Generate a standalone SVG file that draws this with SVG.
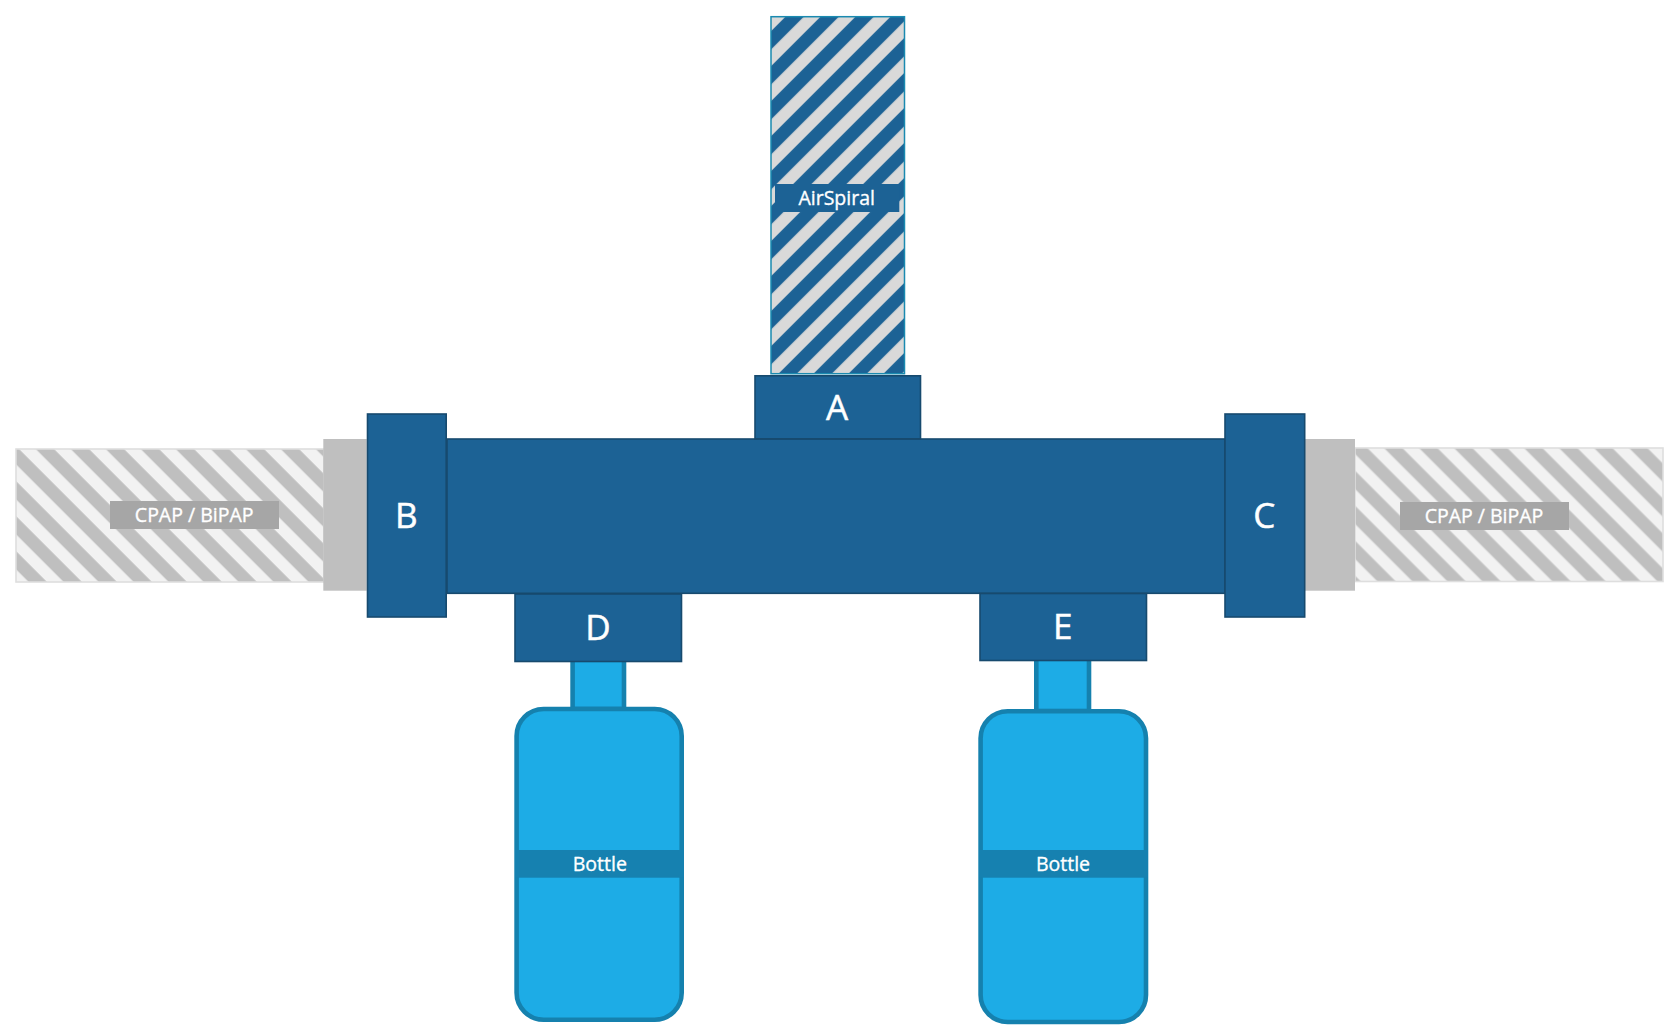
<svg xmlns="http://www.w3.org/2000/svg" width="1677" height="1025" viewBox="0 0 1677 1025">
<style>
.block{fill:#1c6295;stroke:#174a6e;stroke-width:1.6}
.glass{fill:#1dace6;stroke:#1581ae;stroke-width:4.6}
.coupler{fill:#bfbfbf}
.band{fill:#1681b0}
.grey{fill:#a6a6a6}
text{font-family:"Open Sans","Noto Sans","Liberation Sans",sans-serif;fill:#fff;stroke:#fff;text-anchor:middle}
.big{font-size:35px;stroke-width:.5}
.small{font-size:19.5px;stroke-width:.35}
</style>
<defs>
<pattern id="blueStripes" patternUnits="userSpaceOnUse" width="24.749" height="24.749" patternTransform="rotate(45)">
<rect width="24.749" height="24.749" fill="#1c6295"/>
<rect x="11.03" width="11.8" height="24.749" fill="#d9d9d9"/>
</pattern>
<pattern id="greyLeft" patternUnits="userSpaceOnUse" width="24.749" height="24.749" patternTransform="rotate(-45)">
<rect width="24.749" height="24.749" fill="#f2f2f2"/>
<rect x="4.72" width="12.96" height="24.749" fill="#bfbfbf"/>
</pattern>
<pattern id="greyRight" patternUnits="userSpaceOnUse" width="24.749" height="24.749" patternTransform="rotate(-45)">
<rect width="24.749" height="24.749" fill="#bfbfbf"/>
<rect x="6.57" width="11.83" height="24.749" fill="#f2f2f2"/>
</pattern>
</defs>
<rect width="1677" height="1025" fill="#fff"/>
<g id="cpap-left">
<rect x="16" y="449" width="308" height="133" fill="url(#greyLeft)" stroke="#dedede" stroke-width="1.6"/>
<rect class="grey" x="110" y="501" width="169" height="28"/>
<text class="small" x="194.2" y="522.3">CPAP / BiPAP</text>
</g>
<g id="cpap-right">
<rect x="1355" y="448" width="308" height="133.5" fill="url(#greyRight)" stroke="#dedede" stroke-width="1.6"/>
<rect class="grey" x="1400" y="502" width="169" height="28"/>
<text class="small" x="1484" y="523.3">CPAP / BiPAP</text>
</g>
<g id="airspiral">
<rect x="771" y="16.7" width="133.5" height="357" fill="url(#blueStripes)" stroke="#1a8ab0" stroke-width="1.5"/>
<rect x="775" y="184" width="124.3" height="28" fill="#1c6295"/>
<text class="small" x="836.7" y="205">AirSpiral</text>
</g>
<g id="connectors">
<rect class="coupler" x="323.3" y="439" width="43.4" height="151.7"/>
<rect class="coupler" x="1305" y="439" width="50" height="151.7"/>
<rect class="glass" x="572.6" y="658" width="51.4" height="51"/>
<rect class="glass" x="1036.3" y="658" width="52.7" height="53"/>
</g>
<g id="body"><rect class="block" x="447" y="439" width="778" height="154.3"/></g>
<g id="bottle-d">
<rect class="glass" x="516.6" y="709" width="165.1" height="310.7" rx="27"/>
<rect class="band" x="515" y="850" width="169" height="27.7"/>
<text class="small" x="599.8" y="870.7">Bottle</text>
</g>
<g id="bottle-e">
<rect class="glass" x="980.6" y="711.3" width="165.4" height="310.7" rx="27"/>
<rect class="band" x="979" y="850" width="169" height="27.7"/>
<text class="small" x="1063" y="870.7">Bottle</text>
</g>
<g id="node-a"><rect class="block" x="755" y="375.8" width="165.5" height="63"/><text class="big" x="837" y="420">A</text></g>
<g id="node-b"><rect class="block" x="367.5" y="414" width="78.7" height="203"/><text class="big" x="406.3" y="528.3">B</text></g>
<g id="node-c"><rect class="block" x="1225" y="414" width="79.7" height="203"/><text class="big" x="1264.3" y="528.3">C</text></g>
<g id="node-d"><rect class="block" x="515" y="594" width="166.5" height="67.5"/><text class="big" x="598" y="640">D</text></g>
<g id="node-e"><rect class="block" x="980" y="593.5" width="166.5" height="67"/><text class="big" x="1062.7" y="639">E</text></g>
</svg>
